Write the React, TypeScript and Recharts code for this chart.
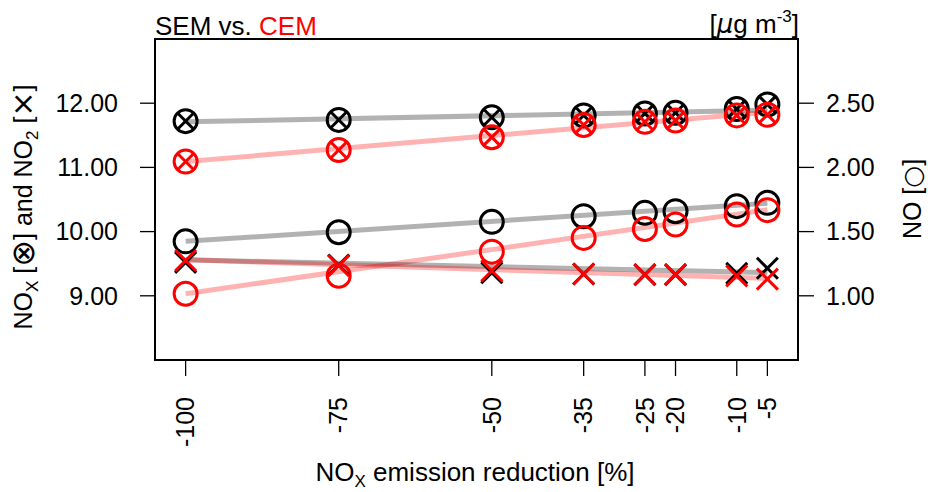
import { ComposedChart, Scatter, XAxis, YAxis, ReferenceArea } from 'recharts';

// NOx emission reduction scenarios [%]
const reductions = [-100, -75, -50, -35, -25, -20, -10, -5];

// left axis: NOx and NO2 [ug m-3]
const semNOx = [11.72, 11.74, 11.78, 11.81, 11.84, 11.85, 11.91, 11.98];
const cemNOx = [11.09, 11.27, 11.47, 11.66, 11.71, 11.73, 11.81, 11.82];
const semNO2 = [9.52, 9.48, 9.36, 9.34, 9.33, 9.33, 9.35, 9.43];
const cemNO2 = [9.55, 9.47, 9.39, 9.34, 9.33, 9.33, 9.31, 9.26];

// right axis: NO [ug m-3]
const semNO = [1.424, 1.495, 1.576, 1.62, 1.646, 1.659, 1.698, 1.724];
const cemNO = [1.016, 1.156, 1.344, 1.451, 1.52, 1.555, 1.633, 1.667];

// linear fit lines (start / end values)
const fitX = [-100, -5];
const semNOxFit = [11.71, 11.89];
const cemNOxFit = [11.09, 11.86];
const semNOFit = [1.424, 1.72];
const cemNOFit = [1.016, 1.67];
const semNO2Fit = [9.56, 9.36];
const cemNO2Fit = [9.56, 9.27];

const leftTicks = [9, 10, 11, 12];
const rightTicks = [1, 1.5, 2, 2.5];

const FONT = '"Liberation Sans", Arial, Helvetica, sans-serif';
const SYM = '"DejaVu Sans", sans-serif';

const pts = (xs: number[], ys: number[]) => xs.map((x, i) => ({ x, y: ys[i] }));

// circle with cross (NOx)
const circleCross = (color: string) => (p: any) => {
  const { cx, cy } = p;
  const r = 11.5;
  const d = r * 0.707;
  return (
    <g stroke={color} strokeWidth={3} fill="none">
      <circle cx={cx} cy={cy} r={r} />
      <line x1={cx - d} y1={cy - d} x2={cx + d} y2={cy + d} />
      <line x1={cx - d} y1={cy + d} x2={cx + d} y2={cy - d} />
    </g>
  );
};

// open circle (NO)
const openCircle = (color: string) => (p: any) => (
  <circle cx={p.cx} cy={p.cy} r={11.5} stroke={color} strokeWidth={3} fill="none" />
);

// cross (NO2)
const cross = (color: string) => (p: any) => {
  const { cx, cy } = p;
  const d = 10.5;
  return (
    <g stroke={color} strokeWidth={3} fill="none">
      <line x1={cx - d} y1={cy - d} x2={cx + d} y2={cy + d} />
      <line x1={cx - d} y1={cy + d} x2={cx + d} y2={cy - d} />
    </g>
  );
};

const noShape = () => <g />;

const XTick = (p: any) => {
  const { x, y, payload } = p;
  return (
    <text
      x={x}
      y={y}
      transform={`rotate(-90, ${x}, ${y})`}
      textAnchor="end"
      dy="0.35em"
      fontSize={25}
      fontFamily={FONT}
      fill="#000"
    >
      {payload.value}
    </text>
  );
};

const grayLine = { stroke: '#000', strokeOpacity: 0.3, strokeWidth: 5 };
const pinkLine = { stroke: '#ff0000', strokeOpacity: 0.3, strokeWidth: 5 };

export default function App() {
  return (
    <div style={{ position: 'absolute', left: 0, top: 0, width: 928, height: 492, fontFamily: FONT }}>
      <ComposedChart width={928} height={492} margin={{ top: 39, right: 0, bottom: 0, left: 0 }}>
        <XAxis
          type="number"
          dataKey="x"
          domain={[-105, 0]}
          ticks={reductions}
          interval={0}
          height={132}
          axisLine={false}
          tickSize={16}
          tickMargin={21}
          tickLine={{ stroke: '#000', strokeWidth: 1.3 }}
          tick={<XTick />}
          allowDataOverflow
        />
        <YAxis
          yAxisId="left"
          type="number"
          dataKey="y"
          orientation="left"
          domain={[8, 13]}
          ticks={leftTicks}
          width={155}
          axisLine={false}
          tickSize={15}
          tickMargin={22}
          tickLine={{ stroke: '#000', strokeWidth: 1.3 }}
          tick={{ fill: '#000', fontSize: 25, fontFamily: FONT }}
          tickFormatter={(v: number) => v.toFixed(2)}
          allowDataOverflow
        />
        <YAxis
          yAxisId="right"
          type="number"
          dataKey="y"
          orientation="right"
          domain={[0.5, 3]}
          ticks={rightTicks}
          width={130}
          axisLine={false}
          tickSize={16}
          tickMargin={12}
          tickLine={{ stroke: '#000', strokeWidth: 1.3 }}
          tick={{ fill: '#000', fontSize: 25, fontFamily: FONT, textAnchor: 'start' }}
          tickFormatter={(v: number) => v.toFixed(2)}
          allowDataOverflow
        />

        {/* fit lines */}
        <Scatter yAxisId="left" data={pts(fitX, semNOxFit)} line={grayLine} shape={noShape} isAnimationActive={false} />
        <Scatter yAxisId="left" data={pts(fitX, cemNOxFit)} line={pinkLine} shape={noShape} isAnimationActive={false} />
        <Scatter yAxisId="right" data={pts(fitX, semNOFit)} line={grayLine} shape={noShape} isAnimationActive={false} />
        <Scatter yAxisId="right" data={pts(fitX, cemNOFit)} line={pinkLine} shape={noShape} isAnimationActive={false} />
        <Scatter yAxisId="left" data={pts(fitX, semNO2Fit)} line={grayLine} shape={noShape} isAnimationActive={false} />
        <Scatter yAxisId="left" data={pts(fitX, cemNO2Fit)} line={pinkLine} shape={noShape} isAnimationActive={false} />

        {/* points */}
        <Scatter yAxisId="left" data={pts(reductions, semNOx)} shape={circleCross('#000')} isAnimationActive={false} />
        <Scatter yAxisId="left" data={pts(reductions, cemNOx)} shape={circleCross('#ff0000')} isAnimationActive={false} />
        <Scatter yAxisId="right" data={pts(reductions, semNO)} shape={openCircle('#000')} isAnimationActive={false} />
        <Scatter yAxisId="right" data={pts(reductions, cemNO)} shape={openCircle('#ff0000')} isAnimationActive={false} />
        <Scatter yAxisId="left" data={pts(reductions, semNO2)} shape={cross('#000')} isAnimationActive={false} />
        <Scatter yAxisId="left" data={pts(reductions, cemNO2)} shape={cross('#ff0000')} isAnimationActive={false} />

        <ReferenceArea
          yAxisId="left"
          x1={-105}
          x2={0}
          y1={8}
          y2={13}
          fill="none"
          stroke="#000"
          strokeWidth={2}
          fillOpacity={0}
          ifOverflow="visible"
        />
      </ComposedChart>

      <svg
        width={928}
        height={492}
        style={{ position: 'absolute', left: 0, top: 0, pointerEvents: 'none' }}
        fontFamily={FONT}
      >
        <text x={155} y={35} fontSize={26}>
          <tspan fill="#000">SEM vs. </tspan>
          <tspan fill="#ff0000">CEM</tspan>
        </text>
        <text x={799} y={33} fontSize={26} textAnchor="end" fill="#000">
          [<tspan fontStyle="italic" fontFamily={SYM}>μ</tspan>g m<tspan dy={-11} fontSize={17}>-3</tspan>
          <tspan dy={11}>]</tspan>
        </text>
        <text x={475} y={481} fontSize={26} textAnchor="middle" fill="#000">
          NO<tspan dy={6} fontSize={17}>X</tspan>
          <tspan dy={-6}> emission reduction [%]</tspan>
        </text>
        <text transform="rotate(-90)" x={-207} y={32} fontSize={25} textAnchor="middle" fill="#000">
          NO<tspan dy={6} fontSize={17}>X</tspan>
          <tspan dy={-6}> [</tspan>
          <tspan fontFamily={SYM} fontSize={32} dy={2}>⊗</tspan>
          <tspan dy={-2}>] and NO</tspan>
          <tspan dy={6} fontSize={17}>2</tspan>
          <tspan dy={-6}> [</tspan>
          <tspan fontFamily={SYM} fontSize={30} dy={1}>×</tspan>
          <tspan dy={-1}>]</tspan>
        </text>
        <text transform="rotate(-90)" x={-199} y={921} fontSize={25} textAnchor="middle" fill="#000">
          NO [<tspan fontFamily={SYM}>○</tspan>]
        </text>
      </svg>
    </div>
  );
}
